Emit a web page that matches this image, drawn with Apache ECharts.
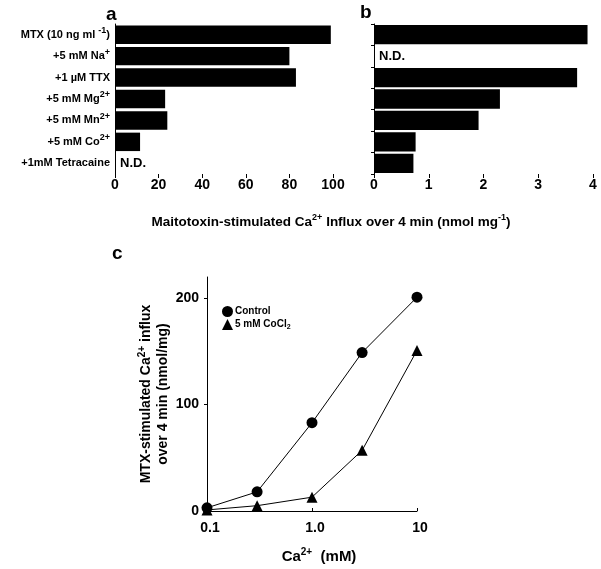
<!DOCTYPE html>
<html><head><meta charset="utf-8">
<script src="https://cdn.jsdelivr.net/npm/echarts@6/dist/echarts.min.js"></script>
<style>html,body{margin:0;padding:0;background:#fff}#c{width:601px;height:569px}</style>
</head><body><div id="c"></div>
<script>
// ---- data ----
var categories = ['MTX (10 ng ml -1)', '+5 mM Na+', '+1 \u00b5M TTX', '+5 mM Mg2+', '+5 mM Mn2+', '+5 mM Co2+', '+1mM Tetracaine'];
var valuesA = [99, 80, 83, 23, 24, 11.5, null];   // null = N.D.
var valuesB = [3.9, null, 3.71, 2.30, 1.91, 0.76, 0.72];
var ticksA = [0, 20, 40, 60, 80, 100];
var ticksB = [0, 1, 2, 3, 4];
var caConc = [0.1, 0.3, 1.0, 3.0, 10];
var control = [3, 18, 83, 149, 201];
var cocl2 = [1, 5, 13, 57, 151];
var xTickLabelsC = {'0.1': '0.1', '1': '1.0', '10': '10'};

var FONT = 'Liberation Sans, Arial, Helvetica, sans-serif';
var catRich = {
  'MTX (10 ng ml -1)': 'MTX (10 ng ml {s|-1})',
  '+5 mM Na+': '+5 mM Na{s|+}',
  '+1 \u00b5M TTX': '+1 \u00b5M TTX',
  '+5 mM Mg2+': '+5 mM Mg{s|2+}',
  '+5 mM Mn2+': '+5 mM Mn{s|2+}',
  '+5 mM Co2+': '+5 mM Co{s|2+}',
  '+1mM Tetracaine': '+1mM Tetracaine'
};
function barData(arr) {
  return arr.map(function (v) {
    if (v === null) return {value: 0, label: {show: true, formatter: 'N.D.', position: 'right', distance: 5,
      color: '#000', fontFamily: FONT, fontWeight: 'bold', fontSize: 13}};
    return v;
  });
}
function sup(size, lh) {
  return {s: {fontSize: size, fontWeight: 'bold', fontFamily: FONT, color: '#000', fill: '#000', verticalAlign: 'top', lineHeight: lh}};
}

var chart = echarts.init(document.getElementById('c'), null, {renderer: 'canvas'});
var axisLineStyle = {lineStyle: {color: '#000', width: 1}};
var option = {
  animation: false,
  backgroundColor: '#fff',
  grid: [
    {left: 115, width: 218, top: 24, height: 150},
    {left: 374, width: 219, top: 24, height: 150},
    {left: 207, width: 210, top: 277, height: 234}
  ],
  xAxis: [
    {gridIndex: 0, type: 'value', min: ticksA[0], max: ticksA[ticksA.length - 1], interval: 20,
      axisLine: axisLineStyle, axisTick: {show: true, length: 4, lineStyle: {color: '#000'}},
      splitLine: {show: false},
      axisLabel: {color: '#000', fontFamily: FONT, fontWeight: 'bold', fontSize: 14, margin: 4}},
    {gridIndex: 1, type: 'value', min: ticksB[0], max: ticksB[ticksB.length - 1], interval: 1,
      axisLine: axisLineStyle, axisTick: {show: true, length: 4, lineStyle: {color: '#000'}},
      splitLine: {show: false},
      axisLabel: {color: '#000', fontFamily: FONT, fontWeight: 'bold', fontSize: 14, margin: 4}},
    {gridIndex: 2, type: 'log', logBase: 10, min: 0.1, max: 10,
      axisLine: axisLineStyle, axisTick: {show: true, inside: true, length: 3, lineStyle: {color: '#000'}},
      minorTick: {show: false}, splitLine: {show: false},
      axisLabel: {color: '#000', fontFamily: FONT, fontWeight: 'bold', fontSize: 14, margin: 10, padding: [0, 0, 0, 6],
        formatter: function (v) { var k = String(+v.toPrecision(3)); return xTickLabelsC[k] || k; }},
      name: 'Ca{s|2+}  (mM)', nameLocation: 'middle', nameGap: 36,
      nameTextStyle: {color: '#000', fontFamily: FONT, fontWeight: 'bold', fontSize: 15, lineHeight: 20, padding: [0, 0, 0, 14], rich: sup(10, 10)}}
  ],
  yAxis: [
    {gridIndex: 0, type: 'category', data: categories, inverse: true,
      axisLine: axisLineStyle, axisTick: {show: false},
      axisLabel: {color: '#000', fontFamily: FONT, fontWeight: 'bold', fontSize: 11, lineHeight: 17, margin: 5,
        formatter: function (v) { return catRich[v] || v; }, rich: sup(9, 8)}},
    {gridIndex: 1, type: 'category', data: categories, inverse: true,
      axisLine: axisLineStyle, axisTick: {show: true, length: 3, lineStyle: {color: '#000'}},
      axisLabel: {show: false}},
    {gridIndex: 2, type: 'value', min: 0, max: 220, interval: 100,
      axisLine: {show: true, lineStyle: {color: '#000', width: 1}},
      axisTick: {show: true, length: 3, lineStyle: {color: '#000'}},
      splitLine: {show: false},
      axisLabel: {color: '#000', fontFamily: FONT, fontWeight: 'bold', fontSize: 14, margin: 8,
        showMaxLabel: false},
      name: 'MTX-stimulated Ca{s|2+} influx\nover 4 min (nmol/mg)', nameLocation: 'middle', nameGap: 35, nameRotate: 90,
      nameTextStyle: {color: '#000', fontFamily: FONT, fontWeight: 'bold', fontSize: 14, lineHeight: 17, align: 'center',
        rich: sup(10, 8)}}
  ],
  legend: {
    left: 217, top: 301, orient: 'vertical', itemGap: 2, itemWidth: 11, itemHeight: 11,
    data: [{name: 'Control', icon: 'circle'}, {name: '5 mM CoCl2', icon: 'triangle'}],
    textStyle: {color: '#000', fontFamily: FONT, fontWeight: 'bold', fontSize: 10, padding: [0, 0, 0, -3],
      rich: {sub: {fontSize: 7, fontWeight: 'bold', fontFamily: FONT, color: '#000', padding: [5, 0, 0, 0]}}},
    formatter: function (n) { return n === '5 mM CoCl2' ? '5 mM CoCl{sub|2}' : n; }
  },
  series: [
    {type: 'bar', xAxisIndex: 0, yAxisIndex: 0, data: barData(valuesA), barCategoryGap: '14%',
      itemStyle: {color: '#000'}, silent: true},
    {type: 'bar', xAxisIndex: 1, yAxisIndex: 1, data: barData(valuesB), barCategoryGap: '10%',
      itemStyle: {color: '#000'}, silent: true},
    {type: 'line', name: 'Control', xAxisIndex: 2, yAxisIndex: 2,
      data: caConc.map(function (x, i) { return [x, control[i]]; }),
      symbol: 'circle', symbolSize: 11, clip: false,
      lineStyle: {color: '#000', width: 1}, itemStyle: {color: '#000'}},
    {type: 'line', name: '5 mM CoCl2', xAxisIndex: 2, yAxisIndex: 2,
      data: caConc.map(function (x, i) { return [x, cocl2[i]]; }),
      symbol: 'triangle', symbolSize: 11, clip: false,
      lineStyle: {color: '#000', width: 1}, itemStyle: {color: '#000'}}
  ],
  graphic: [
    {type: 'text', left: 106, top: 5, style: {text: 'a', fill: '#000', font: 'bold 19px ' + FONT}},
    {type: 'text', left: 360, top: 3, style: {text: 'b', fill: '#000', font: 'bold 19px ' + FONT}},
    {type: 'text', left: 112, top: 244, style: {text: 'c', fill: '#000', font: 'bold 19px ' + FONT}},
    {type: 'text', x: 331, y: 222, style: {
      text: 'Maitotoxin-stimulated Ca{s|2+} Influx over 4 min (nmol mg{s|-1})',
      fill: '#000', font: 'bold 13.5px ' + FONT, lineHeight: 18, align: 'center', verticalAlign: 'middle',
      rich: sup(9, 9)}}
  ]
};
chart.setOption(option);
</script>
</body></html>
